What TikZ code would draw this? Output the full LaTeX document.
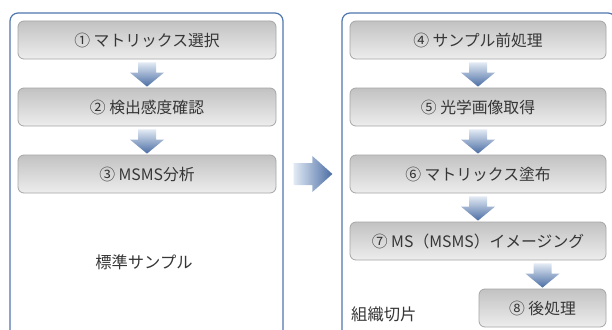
\documentclass[tikz,border=0pt]{standalone}
\usepackage{fontspec}
\setmainfont{Noto Sans CJK JP}
\usetikzlibrary{calc}
\definecolor{panelblue}{HTML}{4F76AD}
\definecolor{boxtop}{HTML}{C2C2C2}
\definecolor{boxbot}{HTML}{EDEDED}
\definecolor{boxline}{HTML}{A6A6A6}
\definecolor{arrlight}{HTML}{E2EAF4}
\definecolor{arrdark}{HTML}{4A6DA4}
\definecolor{txt}{HTML}{363636}
\tikzset{
  panel/.style={draw=panelblue, line width=1.2pt, rounded corners=8pt, fill=white, inner sep=0pt, minimum height=334pt},
  stepbox/.style={draw=boxline, line width=0.8pt, rounded corners=6pt, top color=boxtop, bottom color=boxbot, minimum height=38pt, inner sep=0pt, text=txt, font=\fontsize{15.8}{18}\selectfont},
  leftbox/.style={stepbox, minimum width=258pt},
  rightbox/.style={stepbox, minimum width=256pt},
  plain/.style={text=txt, font=\fontsize{16.3}{18}\selectfont, inner sep=0pt},
  varrowshade/.style={top color=arrlight, bottom color=arrdark},
  harrowshade/.style={left color=arrlight, right color=arrdark}
}
% vertical block arrow from node #1 (above) to node #2 (below), centred on #2
\newcommand\varr[2]{%
  \shade[varrowshade] let \p1=(#1.south), \p2=(#2.north) in
    (\x2-9pt,\y1-3pt) -- (\x2+9pt,\y1-3pt) -- (\x2+9pt,\y2+15pt) -- (\x2+17pt,\y2+15pt)
    -- (\x2,\y2+1pt) -- (\x2-17pt,\y2+15pt) -- (\x2-9pt,\y2+15pt) -- cycle;}
% horizontal block arrow between panels #1 and #2 at height of node #3
\newcommand\harr[3]{%
  \shade[harrowshade] let \p1=(#1.east), \p2=(#2.west), \p3=(#3.center) in
    (\x1+10pt,\y3+11pt) -- (\x2-29pt,\y3+11pt) -- (\x2-29pt,\y3+18pt) -- (\x2-9pt,\y3)
    -- (\x2-29pt,\y3-18pt) -- (\x2-29pt,\y3-11pt) -- (\x1+10pt,\y3-11pt) -- cycle;}
\begin{document}
\begin{tikzpicture}[x=1pt, y=-1pt]
\useasboundingbox (0,0) rectangle (612,329);
\clip (0,0) rectangle (612,329);
% panels
\node[panel, minimum width=273pt] (lp) at (146.5,180) {};
\node[panel, minimum width=274pt] (rp) at (479,180) {};
% left steps
\node[leftbox] (b1) at (147,40) {① マトリックス選択};
\node[leftbox] (b2) at (147,107) {② 検出感度確認};
\node[leftbox] (b3) at (147,174) {③ MSMS分析};
\node[plain] (std) at (144,262) {標準サンプル};
% right steps
\node[rightbox] (b4) at (478,40) {④ サンプル前処理};
\node[rightbox] (b5) at (478,107) {⑤ 光学画像取得};
\node[rightbox] (b6) at (478,174) {⑥ マトリックス塗布};
\node[rightbox] (b7) at (478,241) {⑦ MS（MSMS）イメージング};
\node[stepbox, minimum width=127pt] (b8) at (542.5,308) {⑧ 後処理};
\node[plain, anchor=west] (tis) at (351,314) {組織切片};
% arrows
\varr{b1}{b2}
\varr{b2}{b3}
\varr{b4}{b5}
\varr{b5}{b6}
\varr{b6}{b7}
\varr{b7}{b8}
\harr{lp}{rp}{b3}
\end{tikzpicture}
\end{document}
